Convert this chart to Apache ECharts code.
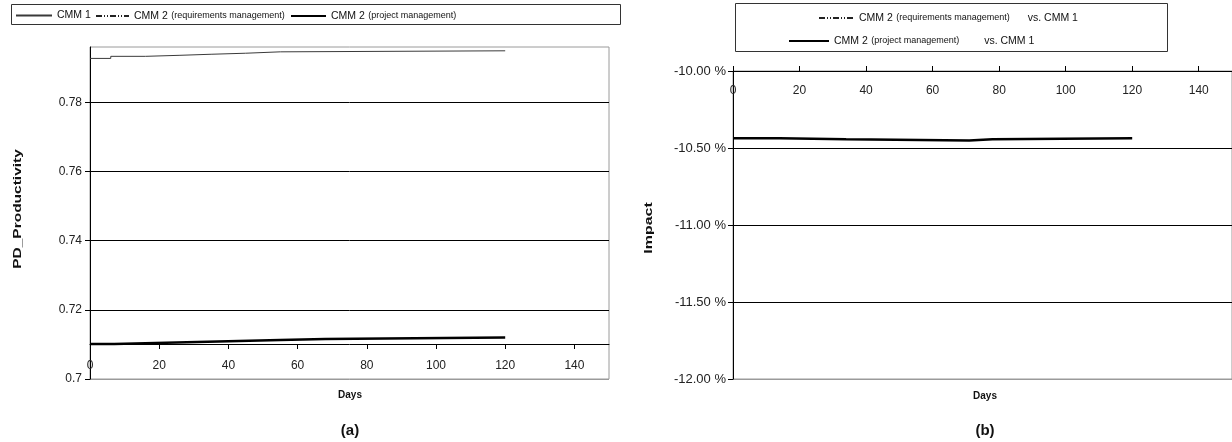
<!DOCTYPE html>
<html>
<head>
<meta charset="utf-8">
<script src="https://cdn.jsdelivr.net/npm/echarts@6/dist/echarts.min.js"></script>
<style>
  html, body { margin: 0; padding: 0; background: #fff; }
  #chart { width: 1232px; height: 442px; }
</style>
</head>
<body>
<div id="chart"></div>
<script>
// Day ticks shared by both panels
const dayTicks = [0, 20, 40, 60, 80, 100, 120, 140];

// (a) PD_Productivity, step points [day, value]
const cmm1Days = [0, 6, 16, 26, 35, 45, 55, 120];
const cmm1Vals = [0.7927, 0.7933, 0.7936, 0.7939, 0.7942, 0.7946, 0.7949, 0.7949];
const projDays = [0, 7, 19, 31, 43, 55, 68, 120];
const projVals = [0.7101, 0.7104, 0.7107, 0.7110, 0.7113, 0.7116, 0.7120, 0.7120];
const prodTicks = [0.70, 0.72, 0.74, 0.76, 0.78];

// (b) Impact of CMM 2 (project management) vs. CMM 1
const impactDays = [0, 14, 34, 71, 78, 120];
const impactVals = [-0.10436, -0.10443, -0.10452, -0.10443, -0.10436, -0.10436];
const impactTicks = [-0.12, -0.115, -0.11, -0.105, -0.10];

const S_CMM1 = 'CMM 1';
const S_REQ = 'CMM 2 (requirements management)';
const S_PROJ = 'CMM 2 (project management)';
const S_REQ_VS = 'CMM 2 (requirements management) vs. CMM 1';
const S_PROJ_VS = 'CMM 2 (project management) vs. CMM 1';

const pairs = (xs, ys) => xs.map((x, i) => [x, ys[i]]);

const FONT = '"Liberation Sans", Arial, sans-serif';
const tickFont = { fontFamily: FONT, fontSize: 12, color: '#222' };
const dashDot = [6, 2, 1, 2, 1, 2];

function legendText(gap) {
  return {
    fontFamily: FONT,
    color: '#111',
    rich: {
      m: { fontFamily: FONT, fontSize: 10.5, color: '#111' },
      s: { fontFamily: FONT, fontSize: 9, color: '#111' },
      g: { width: gap }
    }
  };
}
function legendLabel(name) {
  const m = name.match(/^(CMM \d)(?: (\([^)]*\)))?(?: (vs\. CMM 1))?$/);
  if (!m) return name;
  let s = '{m|' + m[1] + '}';
  if (m[2]) s += ' {s|' + m[2] + '}';
  if (m[3]) s += '{g|}{m|' + m[3] + '}';
  return s;
}
function legend(name, left, top, w, gap) {
  return {
    data: [name], left: left, top: top, itemWidth: w, itemHeight: 8,
    padding: 0, itemGap: 0, selectedMode: false,
    formatter: legendLabel, textStyle: legendText(gap || 0),
    itemStyle: { opacity: 0, borderWidth: 0 }
  };
}

const option = {
  animation: false,
  backgroundColor: '#fff',
  grid: [
    { left: 90, top: 47, width: 519, height: 332, show: true, borderColor: '#9a9a9a', borderWidth: 1 },
    { left: 733, top: 71, width: 503, height: 308, show: true, borderColor: '#9a9a9a', borderWidth: 1 }
  ],
  xAxis: [
    {
      gridIndex: 0, type: 'value', min: 0, max: 150, interval: 20,
      position: 'bottom', offset: -35,
      axisLine: { show: true, onZero: false, lineStyle: { color: '#000', width: 1 } },
      axisTick: { show: true, length: 5, lineStyle: { color: '#000' }, customValues: dayTicks },
      axisLabel: Object.assign({ margin: 16, customValues: dayTicks }, tickFont),
      splitLine: { show: false }
    },
    {
      gridIndex: 1, type: 'value', min: 0, max: 150, interval: 20,
      position: 'top',
      axisLine: { show: true, onZero: false, lineStyle: { color: '#000', width: 1 } },
      axisTick: { show: true, length: 5, lineStyle: { color: '#000' }, customValues: dayTicks },
      axisLabel: Object.assign({ inside: true, margin: 14, customValues: dayTicks }, tickFont),
      splitLine: { show: false }
    }
  ],
  yAxis: [
    {
      gridIndex: 0, type: 'value', min: 0.7, max: 0.796, interval: 0.02,
      axisLine: { show: true, lineStyle: { color: '#000', width: 1 } },
      axisTick: { show: true, length: 5, lineStyle: { color: '#000' }, customValues: prodTicks },
      axisLabel: Object.assign({ margin: 8, customValues: prodTicks, formatter: v => String(+v.toFixed(2)) }, tickFont),
      splitLine: { show: true, lineStyle: { color: ['#9a9a9a', '#000', '#000', '#000', '#000', '#9a9a9a'], width: 1 } }
    },
    {
      gridIndex: 1, type: 'value', min: -0.12, max: -0.10, interval: 0.005,
      axisLine: { show: true, lineStyle: { color: '#000', width: 1 } },
      axisTick: { show: true, length: 5, lineStyle: { color: '#000' }, customValues: impactTicks },
      axisLabel: Object.assign({}, tickFont, { fontSize: 13, margin: 7, customValues: impactTicks, formatter: v => (v * 100).toFixed(2) + ' %' }),
      splitLine: { show: true, lineStyle: { color: ['#9a9a9a', '#000', '#000', '#000', '#000'], width: 1 } }
    }
  ],
  legend: [
    legend(S_CMM1, 15, 10, 36),
    legend(S_REQ, 95, 10, 33),
    legend(S_PROJ, 290, 10, 35),
    legend(S_REQ_VS, 818, 12, 35, 18),
    legend(S_PROJ_VS, 788, 35, 40, 25)
  ],
  series: [
    {
      name: S_CMM1, type: 'line', xAxisIndex: 0, yAxisIndex: 0, step: 'end',
      symbol: 'none', lineStyle: { color: '#3a3a3a', width: 1 }, itemStyle: { color: '#3a3a3a' },
      data: pairs(cmm1Days, cmm1Vals)
    },
    {
      name: S_REQ, type: 'line', xAxisIndex: 0, yAxisIndex: 0,
      symbol: 'none', lineStyle: { color: '#222', width: 1, type: dashDot }, itemStyle: { color: '#222' },
      data: []
    },
    {
      name: S_PROJ, type: 'line', xAxisIndex: 0, yAxisIndex: 0, step: 'end',
      symbol: 'none', lineStyle: { color: '#000', width: 2.5 }, itemStyle: { color: '#000' },
      data: pairs(projDays, projVals)
    },
    {
      name: S_REQ_VS, type: 'line', xAxisIndex: 1, yAxisIndex: 1,
      symbol: 'none', lineStyle: { color: '#222', width: 1, type: dashDot }, itemStyle: { color: '#222' },
      data: []
    },
    {
      name: S_PROJ_VS, type: 'line', xAxisIndex: 1, yAxisIndex: 1, step: 'end',
      symbol: 'none', lineStyle: { color: '#000', width: 2.5 }, itemStyle: { color: '#000' },
      data: pairs(impactDays, impactVals)
    }
  ],
  graphic: [
    // legend frames
    { type: 'rect', shape: { x: 11.5, y: 4.5, width: 609, height: 20 }, style: { fill: 'none', stroke: '#333', lineWidth: 1 }, silent: true },
    { type: 'rect', shape: { x: 735.5, y: 3.5, width: 432, height: 48 }, style: { fill: 'none', stroke: '#333', lineWidth: 1 }, silent: true },
    // axis titles
    { type: 'text', x: 18, y: 209, rotation: Math.PI / 2, scaleX: 1.55, style: { text: 'PD_Productivity', font: 'bold 10px ' + FONT, fill: '#111', align: 'center', verticalAlign: 'middle' } },
    { type: 'text', x: 649, y: 228, rotation: Math.PI / 2, scaleX: 1.6, style: { text: 'Impact', font: 'bold 10px ' + FONT, fill: '#111', align: 'center', verticalAlign: 'middle' } },
    { type: 'text', x: 350, y: 395, style: { text: 'Days', font: 'bold 10px ' + FONT, fill: '#111', align: 'center', verticalAlign: 'middle' } },
    { type: 'text', x: 985, y: 396, style: { text: 'Days', font: 'bold 10px ' + FONT, fill: '#111', align: 'center', verticalAlign: 'middle' } },
    // panel captions
    { type: 'text', x: 350, y: 431, style: { text: '(a)', font: 'bold 15px ' + FONT, fill: '#111', align: 'center', verticalAlign: 'middle' } },
    { type: 'text', x: 985, y: 431, style: { text: '(b)', font: 'bold 15px ' + FONT, fill: '#111', align: 'center', verticalAlign: 'middle' } }
  ]
};

const chart = echarts.init(document.getElementById('chart'), null, { renderer: 'canvas' });
chart.setOption(option);
</script>
</body>
</html>
